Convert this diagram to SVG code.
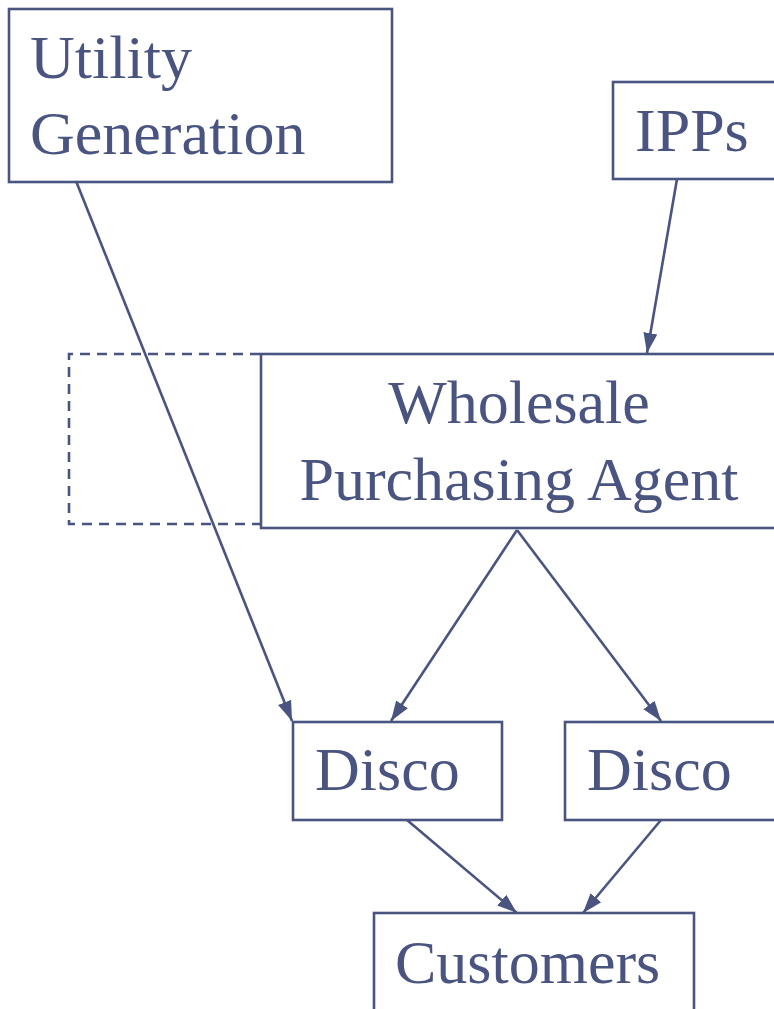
<svg xmlns="http://www.w3.org/2000/svg" width="774" height="1009" viewBox="0 0 774 1009">
  <style>
    .box { fill: #ffffff; stroke: #4a5480; stroke-width: 2.6; }
    .dash { fill: none; stroke: #4a5480; stroke-width: 2.6; stroke-dasharray: 10 7; }
    .lbl { font-family: "Liberation Serif", "Times New Roman", serif; font-size: 62px; fill: #4a5480; }
    .edge { fill: none; stroke: #4a5480; stroke-width: 2.6; marker-end: url(#arrow); }
  </style>
  <defs>
    <marker id="arrow" markerUnits="userSpaceOnUse" markerWidth="21" markerHeight="16" viewBox="0 0 21 16" refX="20" refY="8" orient="auto">
      <path d="M0,1 L20,8 L0,15 Z" fill="#4a5480"/>
    </marker>
  </defs>
  <rect width="774" height="1009" fill="#ffffff"/>

  <!-- dashed outline left of the purchasing agent -->
  <g id="dashed-area">
    <path class="dash" d="M260,354 L69,354 L69,524 L260,524"/>
  </g>

  <g id="utility-generation">
    <rect class="box" x="9" y="9" width="383" height="173"/>
    <text class="lbl" x="30" y="78">Utility</text>
    <text class="lbl" x="30" y="154">Generation</text>
  </g>

  <g id="ipps">
    <rect class="box" x="613" y="82" width="170" height="97"/>
    <text class="lbl" x="635" y="151">IPPs</text>
  </g>

  <g id="wholesale-agent">
    <rect class="box" x="261" y="354" width="522" height="174"/>
    <text class="lbl" x="519" y="423" text-anchor="middle">Wholesale</text>
    <text class="lbl" x="519" y="500" text-anchor="middle">Purchasing Agent</text>
  </g>

  <g id="disco-left">
    <rect class="box" x="293" y="722" width="209" height="98"/>
    <text class="lbl" x="315" y="790">Disco</text>
  </g>

  <g id="disco-right">
    <rect class="box" x="565" y="722" width="218" height="98"/>
    <text class="lbl" x="587" y="790">Disco</text>
  </g>

  <g id="customers">
    <rect class="box" x="374" y="913" width="320" height="110"/>
    <text class="lbl" x="395" y="983">Customers</text>
  </g>

  <g id="connectors">
    <path class="edge" d="M76,181 L292,721"/>
    <path class="edge" d="M677,179 L647,353"/>
    <path class="edge" d="M517,530 L391,721"/>
    <path class="edge" d="M517,530 L661,721"/>
    <path class="edge" d="M407,820 L517,913"/>
    <path class="edge" d="M661,820 L583,913"/>
  </g>
</svg>
